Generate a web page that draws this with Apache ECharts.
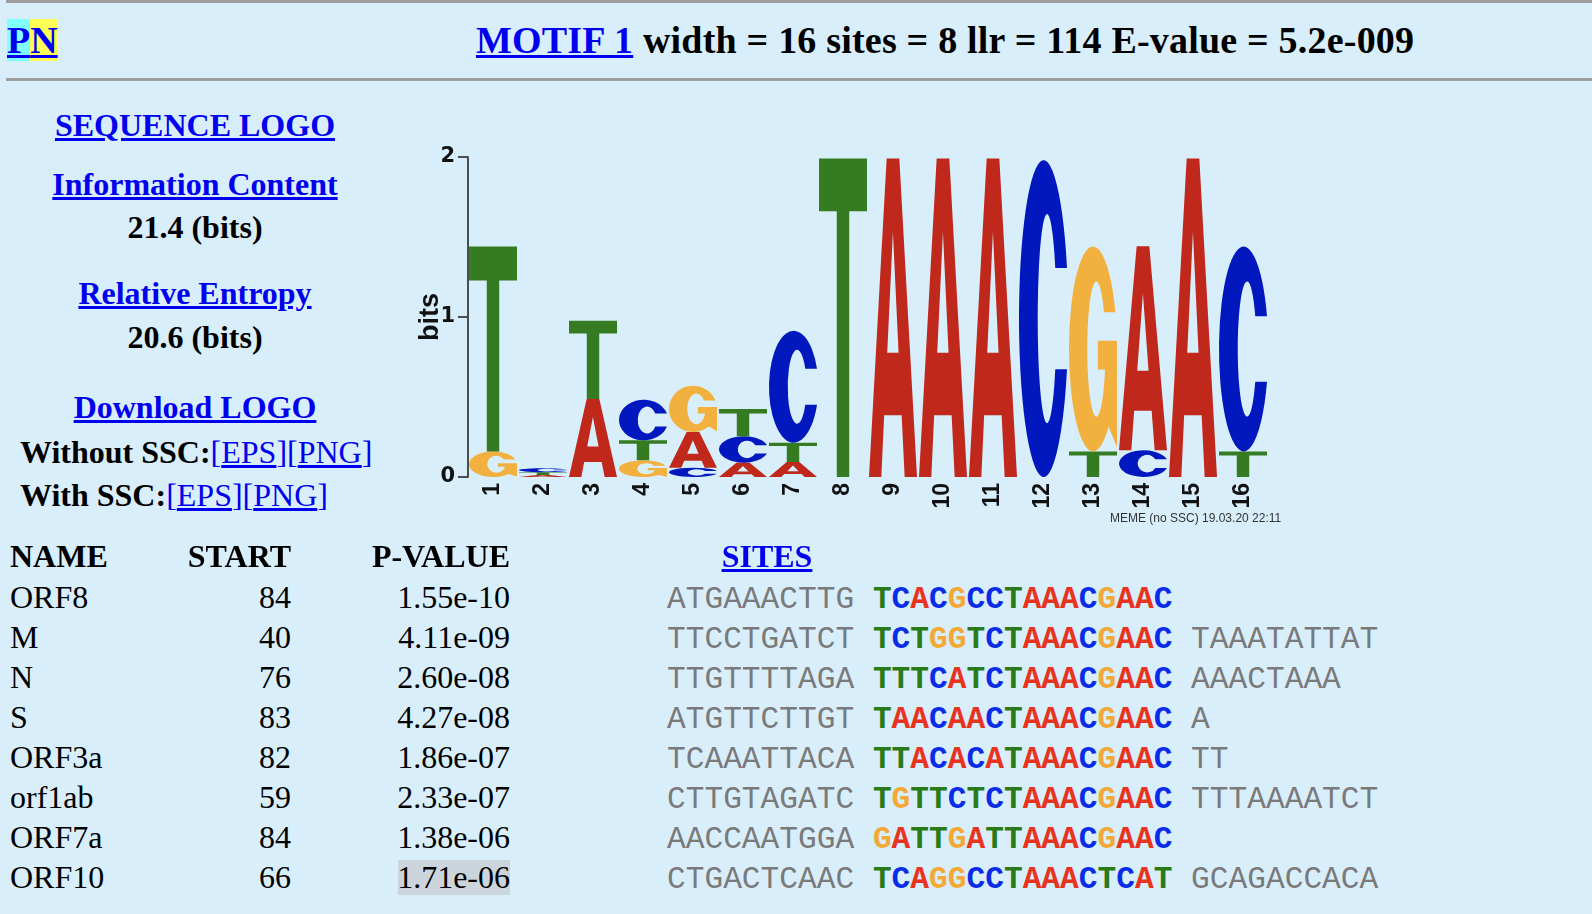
<!DOCTYPE html>
<html>
<head>
<meta charset="utf-8">
<title>MOTIF 1</title>
<script src="https://cdn.jsdelivr.net/npm/echarts@6/dist/echarts.min.js"></script>
<style>
html,body{margin:0;padding:0;background:#D9EEFB;width:1592px;height:914px;overflow:hidden;}
body{position:relative;font-family:"Liberation Serif","Times New Roman",serif;color:#000;}
.t{position:absolute;white-space:pre;line-height:1;}
.b{font-weight:bold;}
a{color:#0000EE;text-decoration:underline;}
.hr{position:absolute;left:6px;right:0;height:3px;background:#9e9e9e;}
.mono{font-family:"Liberation Mono","Courier New",monospace;font-size:31.2px;}
.flank{color:#7a7a7a;}
.motif{font-weight:bold;}
#logo{position:absolute;left:380px;top:120px;width:920px;height:420px;}
</style>
</head>
<body>
<div class="hr" style="top:0px"></div>
<div class="hr" style="top:78px"></div>

<div class="t b" style="left:7px;top:21.2px;font-size:38px;"><span style="background:#7FFFFF"><a>P</a></span><span style="background:#FFFF55"><a>N</a></span></div>
<div class="t b" style="left:476px;top:21.2px;font-size:38px;letter-spacing:0.2px;"><a>MOTIF 1</a> width = 16 sites = 8 llr = 114 E-value = 5.2e-009</div>

<div class="t b" style="left:0;width:390px;text-align:center;top:109.2px;font-size:32px;"><a>SEQUENCE LOGO</a></div>
<div class="t b" style="left:0;width:390px;text-align:center;top:168.2px;font-size:32px;"><a>Information Content</a></div>
<div class="t b" style="left:0;width:390px;text-align:center;top:211.2px;font-size:32px;">21.4 (bits)</div>
<div class="t b" style="left:0;width:390px;text-align:center;top:277.2px;font-size:32px;"><a>Relative Entropy</a></div>
<div class="t b" style="left:0;width:390px;text-align:center;top:321.2px;font-size:32px;">20.6 (bits)</div>
<div class="t b" style="left:0;width:390px;text-align:center;top:391.2px;font-size:32px;"><a>Download LOGO</a></div>
<div class="t" style="left:20px;top:436.2px;font-size:32px;"><b>Without SSC:</b><span style="color:#0000EE">[<a>EPS</a>][<a>PNG</a>]</span></div>
<div class="t" style="left:20px;top:479.2px;font-size:32px;"><b>With SSC:</b><span style="color:#0000EE">[<a>EPS</a>][<a>PNG</a>]</span></div>

<div id="logo"></div>

<div style="position:absolute;left:398px;top:860px;width:112px;height:35px;background:#CDD5DC;"></div>
<div id="table"></div>

<script>
// ---------- data ----------
const positions = ['1','2','3','4','5','6','7','8','9','10','11','12','13','14','15','16'];
const bitsA = [0, 0.012, 0.487, 0, 0.223, 0.09, 0.094, 0, 1.99, 1.99, 1.99, 0, 0, 1.275, 1.99, 0];
const bitsC = [0, 0.025, 0, 0.254, 0.058, 0.165, 0.70, 0, 0, 0, 0, 1.98, 0, 0.167, 0, 1.28];
const bitsG = [0.16, 0, 0, 0.104, 0.29, 0, 0, 0, 0, 0, 0, 0, 1.28, 0, 0, 0];
const bitsT = [1.28, 0.018, 0.49, 0.125, 0, 0.17, 0.12, 1.99, 0, 0, 0, 0, 0.16, 0, 0, 0.16];
const yTicks = [0, 1, 2];

const siteNames = ['ORF8','M','N','S','ORF3a','orf1ab','ORF7a','ORF10'];
const siteStarts = ['84','40','76','83','82','59','84','66'];
const sitePvalues = ['1.55e-10','4.11e-09','2.60e-08','4.27e-08','1.86e-07','2.33e-07','1.38e-06','1.71e-06'];
const leftFlanks = ['ATGAAACTTG','TTCCTGATCT','TTGTTTTAGA','ATGTTCTTGT','TCAAATTACA','CTTGTAGATC','AACCAATGGA','CTGACTCAAC'];
const motifSites = ['TCACGCCTAAACGAAC','TCTGGTCTAAACGAAC','TTTCATCTAAACGAAC','TAACAACTAAACGAAC','TTACACATAAACGAAC','TGTTCTCTAAACGAAC','GATTGATTAAACGAAC','TCAGGCCTAAACTCAT'];
const rightFlanks = ['','TAAATATTAT','AAACTAAA','A','TT','TTTAAAATCT','','GCAGACCACA'];

// ---------- table (HTML text) ----------
const siteColors = {A:'#E8331F', C:'#0A2CE6', G:'#F4A836', T:'#2A7A17'};
(function(){
  const box = document.getElementById('table');
  let h = '';
  const hdrTop = 540.2;
  h += '<div class="t b" style="left:10px;top:'+hdrTop+'px;font-size:32px;">NAME</div>';
  h += '<div class="t b" style="left:150px;width:141px;text-align:right;top:'+hdrTop+'px;font-size:32px;">START</div>';
  h += '<div class="t b" style="left:330px;width:180px;text-align:right;top:'+hdrTop+'px;font-size:32px;">P-VALUE</div>';
  h += '<div class="t b" style="left:667px;width:200px;text-align:center;top:'+hdrTop+'px;font-size:32px;"><a>SITES</a></div>';
  for (let i = 0; i < siteNames.length; i++) {
    const top = 580.7 + 40 * i;
    const mtop = 607.6 + 40 * i - 23.9;
    h += '<div class="t" style="left:10px;top:'+top+'px;font-size:32px;">'+siteNames[i]+'</div>';
    h += '<div class="t" style="left:150px;width:141px;text-align:right;top:'+top+'px;font-size:32px;">'+siteStarts[i]+'</div>';
    h += '<div class="t" style="left:330px;width:180px;text-align:right;top:'+top+'px;font-size:32px;">'+sitePvalues[i]+'</div>';
    let m = '';
    for (const ch of motifSites[i]) m += '<span style="color:'+siteColors[ch]+'">'+ch+'</span>';
    h += '<div class="t mono" style="left:667px;top:'+mtop+'px;"><span class="flank">'+leftFlanks[i]+' </span><span class="motif">'+m+'</span><span class="flank"> '+rightFlanks[i]+'</span></div>';
  }
  box.innerHTML = h;
})();

// ---------- sequence logo (ECharts) ----------
const LETTERS = ['A','C','G','T'];
const LOGO_COLORS = ['#C0281C', '#0018BE', '#F2B13F', '#357B22'];
const LETTER_PATHS = [
  'M0,100 L36.8,0 L63.2,0 L100,100 L74.3,100 L68,80.6 L31.6,80.6 L25.7,100 Z M49.8,23 L38,61 L61.6,61 Z',
  'M97.4,34 A50,50 0 1 0 97.4,66 L73.6,66 A19,33 0 1 1 73.6,34 Z',
  'M96.65,32 A50,50 0 1 0 82.5,88 L100,98 L100,46 L60,46 L60,60 L75.1,60 A19,33 0 1 1 72.9,32 Z',
  'M0,0 L100,0 L100,16.5 L63,16.5 L63,100 L37,100 L37,16.5 L0,16.5 Z'
];
const bitsByLetter = [bitsA, bitsC, bitsG, bitsT];
const stackData = [];
positions.forEach(function(p, i){
  const col = LETTERS.map(function(l, li){ return {li: li, v: bitsByLetter[li][i]}; })
    .filter(function(o){ return o.v > 0; })
    .sort(function(a, b){ return a.v - b.v; });
  let base = 0;
  col.forEach(function(o){ stackData.push([i, o.li, base, base + o.v]); base += o.v; });
});

const chart = echarts.init(document.getElementById('logo'), null, {renderer: 'canvas'});
chart.setOption({
  animation: false,
  backgroundColor: 'transparent',
  grid: {left: 88, top: 37, width: 800, height: 320},
  xAxis: {
    type: 'category',
    data: positions,
    axisLine: {show: false},
    axisTick: {show: false},
    axisLabel: {rotate: 90, margin: 6, color: '#111', fontWeight: 'bold', fontSize: 23,
      fontFamily: '"Liberation Sans Narrow","Liberation Sans",Arial,sans-serif'},
    splitLine: {show: false}
  },
  yAxis: {
    type: 'value', min: 0, max: 2, interval: 1,
    name: 'bits', nameLocation: 'middle', nameGap: 24, nameMoveOverlap: false,
    nameTextStyle: {color: '#111', fontWeight: 'bold', fontSize: 27,
      fontFamily: '"Liberation Sans Narrow","Liberation Sans",Arial,sans-serif'},
    axisLine: {show: true, lineStyle: {color: '#4d4d4d', width: 2}},
    axisTick: {show: true, length: 10, lineStyle: {color: '#4d4d4d', width: 2}},
    axisLabel: {margin: 13, color: '#111', fontWeight: 'bold', fontSize: 21,
      fontFamily: '"DejaVu Sans",sans-serif',
      formatter: function(v){ return yTicks.indexOf(v) >= 0 ? String(v) : ''; }},
    splitLine: {show: false}
  },
  graphic: [{
    type: 'text', left: 730, top: 393,
    style: {text: 'MEME (no SSC) 19.03.20 22:11', fill: '#333',
      font: '12px "Liberation Sans Narrow","Liberation Sans",Arial,sans-serif'}
  }],
  series: [{
    type: 'custom',
    data: stackData,
    encode: {x: 0, y: [2, 3]},
    renderItem: function(params, api){
      const x = api.value(0), li = api.value(1), b = api.value(2), t = api.value(3);
      const p0 = api.coord([x, b]);
      const p1 = api.coord([x, t]);
      const band = api.size([1, 0])[0];
      const w = band * 0.96;
      const h = p0[1] - p1[1];
      if (h < 0.5) return null;
      return {
        type: 'path',
        shape: {pathData: LETTER_PATHS[li], x: p0[0] - w / 2, y: p1[1], width: w, height: h, layout: 'cover'},
        style: {fill: LOGO_COLORS[li]}
      };
    }
  }]
});
</script>
</body>
</html>
